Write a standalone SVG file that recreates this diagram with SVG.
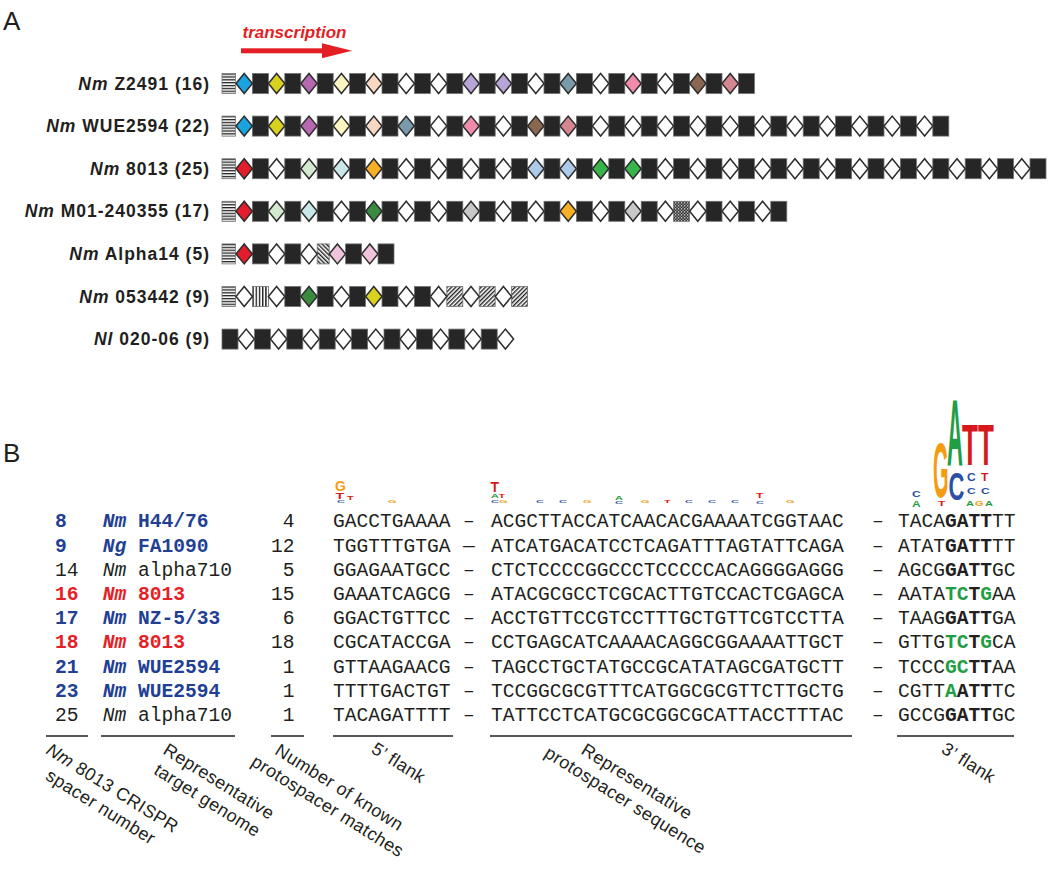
<svg xmlns="http://www.w3.org/2000/svg" xmlns:xlink="http://www.w3.org/1999/xlink" width="1050" height="883" viewBox="0 0 1050 883">
<style>
.pl{font-family:"Liberation Sans",Arial,sans-serif;font-size:26px;fill:#231f20}
.lbl{font-family:"Liberation Sans",Arial,sans-serif;font-size:17.5px;font-weight:bold;letter-spacing:1px;fill:#231f20}
.mono{font-family:"Liberation Mono","Courier New",monospace;font-size:19.6px;fill:#231f20}
.cap{font-family:"Liberation Sans",Arial,sans-serif;font-size:18px;letter-spacing:0.4px;fill:#231f20}
.lg{font-family:"Liberation Sans",Arial,sans-serif;font-weight:bold}
.tb{fill:#233f94;font-weight:bold}
.tr{fill:#e61e25;font-weight:bold}
.tg{fill:#1f9e45;font-weight:bold}
.b{font-weight:bold}
.i{font-style:italic}
.s{fill:#262626;stroke:#707070;stroke-width:0.8}
.d{stroke:#2d2d2d;stroke-width:1.5;stroke-linejoin:miter}
.ul{stroke:#231f20;stroke-width:1.5}
.cb{fill:#1aa3df}.cy{fill:#d9d11f}.cp{fill:#b567b0}.cly{fill:#fdf5c0}.cpe{fill:#f8d8c3}.cw{fill:#fff}
.cla{fill:#b8a5d8}.csl{fill:#7a99ac}.cpk{fill:#f08bac}.cbr{fill:#8b6751}.cro{fill:#d5868f}
.cr{fill:#e31d2b}.clg{fill:#d4ead0}.clc{fill:#c9e7e9}.co{fill:#f7b025}.clb{fill:#aecaea}
.cg{fill:#38b44b}.cdg{fill:#3a8a3f}.cgy{fill:#c8c8c8}.clp{fill:#f0c3dc}
.ldr{fill:url(#hs);stroke:#777;stroke-width:0.8}
</style>
<defs>
<rect id="sq" x="0" y="-10" width="16" height="20"/>
<polygon id="dm" points="0,0 8.2,-10 16.4,0 8.2,10"/>
<pattern id="hs" patternUnits="userSpaceOnUse" x="0" y="-10" width="4" height="2.86"><rect width="4" height="2.86" fill="#fff"/><rect width="4" height="1.3" fill="#222"/></pattern>
<pattern id="vs" patternUnits="userSpaceOnUse" x="252.4" y="0" width="3.2" height="4"><rect width="3.2" height="4" fill="#fff"/><rect width="1.4" height="4" fill="#222"/></pattern>
<pattern id="dgA" patternUnits="userSpaceOnUse" width="3" height="3" patternTransform="rotate(45)"><rect width="3" height="3" fill="#fff"/><rect width="1.4" height="3" fill="#222"/></pattern>
<pattern id="dgB" patternUnits="userSpaceOnUse" width="3" height="3" patternTransform="rotate(-45)"><rect width="3" height="3" fill="#fff"/><rect width="1.4" height="3" fill="#222"/></pattern>
<pattern id="ck" patternUnits="userSpaceOnUse" width="3" height="3"><rect width="3" height="3" fill="#222"/><rect width="1.2" height="1.2" fill="#fff"/><rect x="1.5" y="1.5" width="1.2" height="1.2" fill="#fff"/></pattern>
</defs>
<rect width="1050" height="883" fill="#fff"/>

<text class="pl" x="3" y="30">A</text>
<text class="pl" x="3" y="462">B</text>

<g id="transcription">
<text x="242.5" y="37.5" font-family="Liberation Sans, Arial, sans-serif" font-size="17" font-weight="bold" font-style="italic" fill="#e31e24">transcription</text>
<rect x="241" y="48.3" width="83" height="5" fill="#e31e24"/>
<polygon points="322,43.3 352,50.8 322,58.3" fill="#e31e24"/>
</g>

<g id="labels-A">
<text class="lbl" x="210" y="89.5" text-anchor="end"><tspan class="i">Nm</tspan> Z2491 (16)</text>
<text class="lbl" x="210" y="132.1" text-anchor="end"><tspan class="i">Nm</tspan> WUE2594 (22)</text>
<text class="lbl" x="210" y="174.7" text-anchor="end"><tspan class="i">Nm</tspan> 8013 (25)</text>
<text class="lbl" x="210" y="217.3" text-anchor="end"><tspan class="i">Nm</tspan> M01-240355 (17)</text>
<text class="lbl" x="210" y="259.9" text-anchor="end"><tspan class="i">Nm</tspan> Alpha14 (5)</text>
<text class="lbl" x="210" y="302.5" text-anchor="end"><tspan class="i">Nm</tspan> 053442 (9)</text>
<text class="lbl" x="210" y="345.1" text-anchor="end"><tspan class="i">Nl</tspan> 020-06 (9)</text>
</g>

<g id="row-z2491" transform="translate(0,83.5)">
<rect class="ldr" x="222" y="-10" width="13.5" height="20"/>
<use href="#sq" class="s" x="252.4"/><use href="#sq" class="s" x="284.8"/><use href="#sq" class="s" x="317.2"/><use href="#sq" class="s" x="349.6"/><use href="#sq" class="s" x="382"/><use href="#sq" class="s" x="414.4"/><use href="#sq" class="s" x="446.8"/><use href="#sq" class="s" x="479.2"/><use href="#sq" class="s" x="511.6"/><use href="#sq" class="s" x="544"/><use href="#sq" class="s" x="576.4"/><use href="#sq" class="s" x="608.8"/><use href="#sq" class="s" x="641.2"/><use href="#sq" class="s" x="673.6"/><use href="#sq" class="s" x="706"/><use href="#sq" class="s" x="738.4"/>
<use href="#dm" class="d cb" x="236"/><use href="#dm" class="d cy" x="268.4"/><use href="#dm" class="d cp" x="300.8"/><use href="#dm" class="d cly" x="333.2"/><use href="#dm" class="d cpe" x="365.6"/><use href="#dm" class="d cw" x="398"/><use href="#dm" class="d cw" x="430.4"/><use href="#dm" class="d cla" x="462.8"/><use href="#dm" class="d cla" x="495.2"/><use href="#dm" class="d cw" x="527.6"/><use href="#dm" class="d csl" x="560"/><use href="#dm" class="d cw" x="592.4"/><use href="#dm" class="d cpk" x="624.8"/><use href="#dm" class="d cw" x="657.2"/><use href="#dm" class="d cbr" x="689.6"/><use href="#dm" class="d cro" x="722"/>
</g>

<g id="row-wue2594" transform="translate(0,126.1)">
<rect class="ldr" x="222" y="-10" width="13.5" height="20"/>
<use href="#sq" class="s" x="252.4"/><use href="#sq" class="s" x="284.8"/><use href="#sq" class="s" x="317.2"/><use href="#sq" class="s" x="349.6"/><use href="#sq" class="s" x="382"/><use href="#sq" class="s" x="414.4"/><use href="#sq" class="s" x="446.8"/><use href="#sq" class="s" x="479.2"/><use href="#sq" class="s" x="511.6"/><use href="#sq" class="s" x="544"/><use href="#sq" class="s" x="576.4"/><use href="#sq" class="s" x="608.8"/><use href="#sq" class="s" x="641.2"/><use href="#sq" class="s" x="673.6"/><use href="#sq" class="s" x="706"/><use href="#sq" class="s" x="738.4"/><use href="#sq" class="s" x="770.8"/><use href="#sq" class="s" x="803.2"/><use href="#sq" class="s" x="835.6"/><use href="#sq" class="s" x="868"/><use href="#sq" class="s" x="900.4"/><use href="#sq" class="s" x="932.8"/>
<use href="#dm" class="d cb" x="236"/><use href="#dm" class="d cy" x="268.4"/><use href="#dm" class="d cp" x="300.8"/><use href="#dm" class="d cly" x="333.2"/><use href="#dm" class="d cpe" x="365.6"/><use href="#dm" class="d csl" x="398"/><use href="#dm" class="d cw" x="430.4"/><use href="#dm" class="d cpk" x="462.8"/><use href="#dm" class="d cw" x="495.2"/><use href="#dm" class="d cbr" x="527.6"/><use href="#dm" class="d cro" x="560"/><use href="#dm" class="d cw" x="592.4"/><use href="#dm" class="d cw" x="624.8"/><use href="#dm" class="d cw" x="657.2"/><use href="#dm" class="d cw" x="689.6"/><use href="#dm" class="d cw" x="722"/><use href="#dm" class="d cw" x="754.4"/><use href="#dm" class="d cw" x="786.8"/><use href="#dm" class="d cw" x="819.2"/><use href="#dm" class="d cw" x="851.6"/><use href="#dm" class="d cw" x="884"/><use href="#dm" class="d cw" x="916.4"/>
</g>

<g id="row-8013" transform="translate(0,168.7)">
<rect class="ldr" x="222" y="-10" width="13.5" height="20"/>
<use href="#sq" class="s" x="252.4"/><use href="#sq" class="s" x="284.8"/><use href="#sq" class="s" x="317.2"/><use href="#sq" class="s" x="349.6"/><use href="#sq" class="s" x="382"/><use href="#sq" class="s" x="414.4"/><use href="#sq" class="s" x="446.8"/><use href="#sq" class="s" x="479.2"/><use href="#sq" class="s" x="511.6"/><use href="#sq" class="s" x="544"/><use href="#sq" class="s" x="576.4"/><use href="#sq" class="s" x="608.8"/><use href="#sq" class="s" x="641.2"/><use href="#sq" class="s" x="673.6"/><use href="#sq" class="s" x="706"/><use href="#sq" class="s" x="738.4"/><use href="#sq" class="s" x="770.8"/><use href="#sq" class="s" x="803.2"/><use href="#sq" class="s" x="835.6"/><use href="#sq" class="s" x="868"/><use href="#sq" class="s" x="900.4"/><use href="#sq" class="s" x="932.8"/><use href="#sq" class="s" x="965.2"/><use href="#sq" class="s" x="997.6"/><use href="#sq" class="s" x="1030"/>
<use href="#dm" class="d cr" x="236"/><use href="#dm" class="d cw" x="268.4"/><use href="#dm" class="d clg" x="300.8"/><use href="#dm" class="d clc" x="333.2"/><use href="#dm" class="d co" x="365.6"/><use href="#dm" class="d cw" x="398"/><use href="#dm" class="d cw" x="430.4"/><use href="#dm" class="d cw" x="462.8"/><use href="#dm" class="d cw" x="495.2"/><use href="#dm" class="d clb" x="527.6"/><use href="#dm" class="d clb" x="560"/><use href="#dm" class="d cg" x="592.4"/><use href="#dm" class="d cg" x="624.8"/><use href="#dm" class="d cw" x="657.2"/><use href="#dm" class="d cw" x="689.6"/><use href="#dm" class="d cw" x="722"/><use href="#dm" class="d cw" x="754.4"/><use href="#dm" class="d cw" x="786.8"/><use href="#dm" class="d cw" x="819.2"/><use href="#dm" class="d cw" x="851.6"/><use href="#dm" class="d cw" x="884"/><use href="#dm" class="d cw" x="916.4"/><use href="#dm" class="d cw" x="948.8"/><use href="#dm" class="d cw" x="981.2"/><use href="#dm" class="d cw" x="1013.6"/>
</g>

<g id="row-m01" transform="translate(0,211.3)">
<rect class="ldr" x="222" y="-10" width="13.5" height="20"/>
<use href="#sq" class="s" x="252.4"/><use href="#sq" class="s" x="284.8"/><use href="#sq" class="s" x="317.2"/><use href="#sq" class="s" x="349.6"/><use href="#sq" class="s" x="382"/><use href="#sq" class="s" x="414.4"/><use href="#sq" class="s" x="446.8"/><use href="#sq" class="s" x="479.2"/><use href="#sq" class="s" x="511.6"/><use href="#sq" class="s" x="544"/><use href="#sq" class="s" x="576.4"/><use href="#sq" class="s" x="608.8"/><use href="#sq" class="s" x="641.2"/><rect x="673.6" y="-10" width="16" height="20" fill="url(#ck)" stroke="#707070" stroke-width="0.8"/><use href="#sq" class="s" x="706"/><use href="#sq" class="s" x="738.4"/><use href="#sq" class="s" x="770.8"/>
<use href="#dm" class="d cr" x="236"/><use href="#dm" class="d clg" x="268.4"/><use href="#dm" class="d clc" x="300.8"/><use href="#dm" class="d cw" x="333.2"/><use href="#dm" class="d cdg" x="365.6"/><use href="#dm" class="d cw" x="398"/><use href="#dm" class="d cw" x="430.4"/><use href="#dm" class="d cgy" x="462.8"/><use href="#dm" class="d cw" x="495.2"/><use href="#dm" class="d cw" x="527.6"/><use href="#dm" class="d co" x="560"/><use href="#dm" class="d cw" x="592.4"/><use href="#dm" class="d cgy" x="624.8"/><use href="#dm" class="d cw" x="657.2"/><use href="#dm" class="d cw" x="689.6"/><use href="#dm" class="d cw" x="722"/><use href="#dm" class="d cw" x="754.4"/>
</g>

<g id="row-alpha14" transform="translate(0,253.9)">
<rect class="ldr" x="222" y="-10" width="13.5" height="20"/>
<use href="#sq" class="s" x="252.4"/><use href="#sq" class="s" x="284.8"/><rect x="317.2" y="-10" width="12" height="20" fill="url(#dgB)" stroke="#707070" stroke-width="0.8"/><use href="#sq" class="s" x="345.6"/><use href="#sq" class="s" x="378"/>
<use href="#dm" class="d cr" x="236"/><use href="#dm" class="d cw" x="268.4"/><use href="#dm" class="d cw" x="300.8"/><use href="#dm" class="d clp" x="329.2"/><use href="#dm" class="d clp" x="361.6"/>
</g>

<g id="row-053442" transform="translate(0,296.5)">
<rect class="ldr" x="222" y="-10" width="13.5" height="20"/>
<rect x="252.4" y="-10" width="16" height="20" fill="url(#vs)" stroke="#707070" stroke-width="0.8"/><use href="#sq" class="s" x="284.8"/><use href="#sq" class="s" x="317.2"/><use href="#sq" class="s" x="349.6"/><use href="#sq" class="s" x="382"/><use href="#sq" class="s" x="414.4"/><rect x="446.8" y="-10" width="16" height="20" fill="url(#dgA)" stroke="#707070" stroke-width="0.8"/><rect x="479.2" y="-10" width="16" height="20" fill="url(#dgA)" stroke="#707070" stroke-width="0.8"/><rect x="511.6" y="-10" width="16" height="20" fill="url(#dgA)" stroke="#707070" stroke-width="0.8"/>
<use href="#dm" class="d cw" x="236"/><use href="#dm" class="d cw" x="268.4"/><use href="#dm" class="d cdg" x="300.8"/><use href="#dm" class="d cw" x="333.2"/><use href="#dm" class="d cy" x="365.6"/><use href="#dm" class="d cw" x="398"/><use href="#dm" class="d cw" x="430.4"/><use href="#dm" class="d cw" x="462.8"/><use href="#dm" class="d cw" x="495.2"/>
</g>

<g id="row-nl02006" transform="translate(0,339.1)">
<use href="#sq" class="s" x="222"/><use href="#sq" class="s" x="254.4"/><use href="#sq" class="s" x="286.8"/><use href="#sq" class="s" x="319.2"/><use href="#sq" class="s" x="351.6"/><use href="#sq" class="s" x="384"/><use href="#sq" class="s" x="416.4"/><use href="#sq" class="s" x="448.8"/><use href="#sq" class="s" x="481.2"/>
<use href="#dm" class="d cw" x="238"/><use href="#dm" class="d cw" x="270.4"/><use href="#dm" class="d cw" x="302.8"/><use href="#dm" class="d cw" x="335.2"/><use href="#dm" class="d cw" x="367.6"/><use href="#dm" class="d cw" x="400"/><use href="#dm" class="d cw" x="432.4"/><use href="#dm" class="d cw" x="464.8"/><use href="#dm" class="d cw" x="497.2"/>
</g>

<g id="logo-5flank" class="lg">
<text x="335" y="491" font-size="14" fill="#f39c12">G</text>
<text transform="translate(335.5,498.5) scale(1,0.65)" font-size="14" fill="#d7191c">T</text>
<text transform="translate(337,502.5) scale(1,0.28)" font-size="11" fill="#2b4fa3">C</text>
<text transform="translate(347,500) scale(1,0.42)" font-size="11" fill="#d7191c">T</text>
<text transform="translate(388,502.5) scale(1,0.35)" font-size="11" fill="#f39c12">G</text>
</g>
<g id="logo-protospacer" class="lg">
<text x="490.5" y="492" font-size="14" fill="#d7191c">T</text>
<text transform="translate(491,498) scale(1,0.5)" font-size="11" fill="#1f9e45">A</text>
<text transform="translate(498.5,498) scale(1,0.5)" font-size="11" fill="#d7191c">T</text>
<text transform="translate(491,502.5) scale(1,0.35)" font-size="11" fill="#2b4fa3">C</text>
<text transform="translate(499,502.5) scale(1,0.35)" font-size="11" fill="#f39c12">G</text>
<text transform="translate(536,503) scale(1,0.35)" font-size="11" fill="#2b4fa3">C</text>
<text transform="translate(559,503) scale(1,0.35)" font-size="11" fill="#2b4fa3">C</text>
<text transform="translate(583,503) scale(1,0.35)" font-size="11" fill="#f39c12">G</text>
<text transform="translate(615,499.5) scale(1,0.55)" font-size="11" fill="#1f9e45">A</text>
<text transform="translate(615,504) scale(1,0.32)" font-size="11" fill="#2b4fa3">C</text>
<text transform="translate(641,503) scale(1,0.3)" font-size="11" fill="#f39c12">G</text>
<text transform="translate(664,503) scale(1,0.3)" font-size="11" fill="#d7191c">T</text>
<text transform="translate(685,503) scale(1,0.35)" font-size="11" fill="#2b4fa3">C</text>
<text transform="translate(708,503) scale(1,0.3)" font-size="11" fill="#2b4fa3">C</text>
<text transform="translate(731,503) scale(1,0.35)" font-size="11" fill="#2b4fa3">C</text>
<text transform="translate(756,497.5) scale(1,0.65)" font-size="12" fill="#d7191c">T</text>
<text transform="translate(756,503.5) scale(1,0.38)" font-size="11" fill="#2b4fa3">C</text>
<text transform="translate(786,503) scale(1,0.3)" font-size="11" fill="#f39c12">G</text>
</g>
<g id="logo-3flank" class="lg">
<text transform="translate(912,496.5) scale(1,0.7)" font-size="12" fill="#2b4fa3">C</text>
<text transform="translate(912,506.5) scale(1,0.7)" font-size="12" fill="#1f9e45">A</text>
<text transform="translate(933,497) scale(1,3.9)" font-size="20" fill="#f39c12">G</text>
<text transform="translate(947,466) scale(1,4.3)" font-size="22" fill="#1f9e45">A</text>
<text transform="translate(948.5,500) scale(1,1.8)" font-size="22" fill="#2b4fa3">C</text>
<text transform="translate(962,465) scale(1,2.2)" font-size="26" fill="#d7191c">T</text>
<text transform="translate(978,465) scale(1,2.2)" font-size="26" fill="#d7191c">T</text>
<text transform="translate(938,506) scale(1,0.55)" font-size="12" fill="#d7191c">T</text>
<text transform="translate(967,481) scale(1,0.9)" font-size="12" fill="#2b4fa3">C</text>
<text transform="translate(981,481) scale(1,0.9)" font-size="12" fill="#d7191c">T</text>
<text transform="translate(967,494) scale(1,0.8)" font-size="12" fill="#2b4fa3">C</text>
<text transform="translate(981,494) scale(1,0.8)" font-size="12" fill="#2b4fa3">C</text>
<text transform="translate(966,506) scale(1,0.7)" font-size="11" fill="#1f9e45">A</text>
<text transform="translate(975,506) scale(1,0.7)" font-size="11" fill="#f39c12">G</text>
<text transform="translate(985,506) scale(1,0.7)" font-size="11" fill="#1f9e45">A</text>
</g>

<g id="table" class="mono">
<g id="r8"><text x="55" y="527.3" class="tb">8</text><text x="102.7" y="527.3" class="tb"><tspan class="i">Nm</tspan> H44/76</text><text x="294.5" y="527.3" text-anchor="end">4</text><text x="333" y="527.3">GACCTGAAAA</text><text x="463" y="527.3">–</text><text x="491" y="527.3">ACGCTTACCATCAACACGAAAATCGGTAAC</text><text x="872" y="527.3">–</text><text x="898" y="527.3">TACA<tspan class="b">GATT</tspan>TT</text></g>
<g id="r9"><text x="55" y="551.5" class="tb">9</text><text x="102.7" y="551.5" class="tb"><tspan class="i">Ng</tspan> FA1090</text><text x="294.5" y="551.5" text-anchor="end">12</text><text x="333" y="551.5">TGGTTTGTGA</text><text x="463" y="551.5">—</text><text x="491" y="551.5">ATCATGACATCCTCAGATTTAGTATTCAGA</text><text x="872" y="551.5">–</text><text x="898" y="551.5">ATAT<tspan class="b">GATT</tspan>TT</text></g>
<g id="r14"><text x="55" y="575.7">14</text><text x="102.7" y="575.7"><tspan class="i">Nm</tspan> alpha710</text><text x="294.5" y="575.7" text-anchor="end">5</text><text x="333" y="575.7">GGAGAATGCC</text><text x="463" y="575.7">–</text><text x="491" y="575.7">CTCTCCCCGGCCCTCCCCCACAGGGGAGGG</text><text x="872" y="575.7">–</text><text x="898" y="575.7">AGCG<tspan class="b">GATT</tspan>GC</text></g>
<g id="r16"><text x="55" y="599.9" class="tr">16</text><text x="102.7" y="599.9" class="tr"><tspan class="i">Nm</tspan> 8013</text><text x="294.5" y="599.9" text-anchor="end">15</text><text x="333" y="599.9">GAAATCAGCG</text><text x="463" y="599.9">–</text><text x="491" y="599.9">ATACGCGCCTCGCACTTGTCCACTCGAGCA</text><text x="872" y="599.9">–</text><text x="898" y="599.9">AATA<tspan class="tg">TC</tspan><tspan class="b">T</tspan><tspan class="tg">G</tspan>AA</text></g>
<g id="r17"><text x="55" y="624.1" class="tb">17</text><text x="102.7" y="624.1" class="tb"><tspan class="i">Nm</tspan> NZ-5/33</text><text x="294.5" y="624.1" text-anchor="end">6</text><text x="333" y="624.1">GGACTGTTCC</text><text x="463" y="624.1">–</text><text x="491" y="624.1">ACCTGTTCCGTCCTTTGCTGTTCGTCCTTA</text><text x="872" y="624.1">–</text><text x="898" y="624.1">TAAG<tspan class="b">GATT</tspan>GA</text></g>
<g id="r18"><text x="55" y="648.3" class="tr">18</text><text x="102.7" y="648.3" class="tr"><tspan class="i">Nm</tspan> 8013</text><text x="294.5" y="648.3" text-anchor="end">18</text><text x="333" y="648.3">CGCATACCGA</text><text x="463" y="648.3">–</text><text x="491" y="648.3">CCTGAGCATCAAAACAGGCGGAAAATTGCT</text><text x="872" y="648.3">–</text><text x="898" y="648.3">GTTG<tspan class="tg">TC</tspan><tspan class="b">T</tspan><tspan class="tg">G</tspan>CA</text></g>
<g id="r21"><text x="55" y="672.5" class="tb">21</text><text x="102.7" y="672.5" class="tb"><tspan class="i">Nm</tspan> WUE2594</text><text x="294.5" y="672.5" text-anchor="end">1</text><text x="333" y="672.5">GTTAAGAACG</text><text x="463" y="672.5">–</text><text x="491" y="672.5">TAGCCTGCTATGCCGCATATAGCGATGCTT</text><text x="872" y="672.5">–</text><text x="898" y="672.5">TCCC<tspan class="tg">GC</tspan><tspan class="b">TT</tspan>AA</text></g>
<g id="r23"><text x="55" y="696.7" class="tb">23</text><text x="102.7" y="696.7" class="tb"><tspan class="i">Nm</tspan> WUE2594</text><text x="294.5" y="696.7" text-anchor="end">1</text><text x="333" y="696.7">TTTTGACTGT</text><text x="463" y="696.7">–</text><text x="491" y="696.7">TCCGGCGCGTTTCATGGCGCGTTCTTGCTG</text><text x="872" y="696.7">–</text><text x="898" y="696.7">CGTT<tspan class="tg">A</tspan><tspan class="b">ATT</tspan>TC</text></g>
<g id="r25"><text x="55" y="720.9">25</text><text x="102.7" y="720.9"><tspan class="i">Nm</tspan> alpha710</text><text x="294.5" y="720.9" text-anchor="end">1</text><text x="333" y="720.9">TACAGATTTT</text><text x="463" y="720.9">–</text><text x="491" y="720.9">TATTCCTCATGCGCGGCGCATTACCTTTAC</text><text x="872" y="720.9">–</text><text x="898" y="720.9">GCCG<tspan class="b">GATT</tspan>GC</text></g>
</g>

<g id="underlines" class="ul">
<line x1="46" y1="736" x2="88" y2="736"/>
<line x1="101" y1="736" x2="235" y2="736"/>
<line x1="271" y1="736" x2="304" y2="736"/>
<line x1="333" y1="736" x2="453" y2="736"/>
<line x1="490" y1="736" x2="852" y2="736"/>
<line x1="897" y1="736" x2="1014" y2="736"/>
</g>

<g id="column-captions" class="cap" text-anchor="middle">
<text transform="translate(109.3,793.2) rotate(32)"><tspan class="i">Nm</tspan> 8013 CRISPR</text>
<text transform="translate(97.6,811.9) rotate(32)">spacer number</text>
<text transform="translate(215.8,786.6) rotate(32)">Representative</text>
<text transform="translate(204.1,805.3) rotate(32)">target genome</text>
<text transform="translate(336.2,792.5) rotate(32)">Number of known</text>
<text transform="translate(324.5,811.2) rotate(32)">protospacer matches</text>
<text transform="translate(395.5,767.9) rotate(32)">5’ flank</text>
<text transform="translate(633.8,786.6) rotate(32)">Representative</text>
<text transform="translate(622.1,805.3) rotate(32)">protospacer sequence</text>
<text transform="translate(965.5,767.9) rotate(32)">3’ flank</text>
</g>
</svg>
